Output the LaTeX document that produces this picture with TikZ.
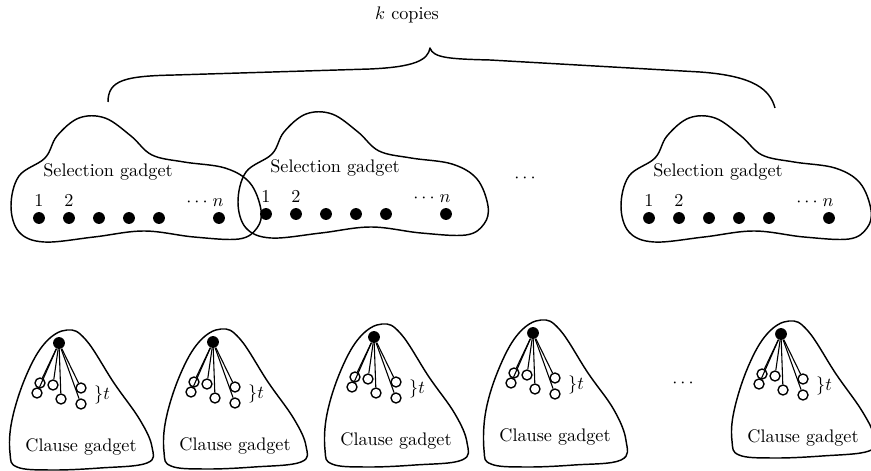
\documentclass[tikz,border=0pt]{standalone}
\tikzset{
 outline/.style={line width=0.8pt, line join=round},
 sdot/.style={circle, fill=black, inner sep=0pt, minimum size=6.5pt},
 cdot/.style={circle, fill=black, inner sep=0pt, minimum size=6.5pt},
 odot/.style={circle, draw, fill=white, line width=0.75pt, inner sep=0pt, minimum size=5.5pt},
 spoke/.style={line width=0.6pt},
 lbl/.style={inner sep=0pt},
}
\newcommand\selgadget[3]{%
 \begin{scope}[shift={(#2,#3)}]
  \draw[outline] plot[smooth cycle, tension=0.6] coordinates {
   (-28,-12) (-20,-42) (6,-60) (18,-82) (40,-100) (66,-100) (92,-82) (113,-63)
   (145,-56) (186,-50) (211,-35) (222,-8) (218,10) (200,21) (155,19) (105,13)
   (55,19) (5,24) (-20,14)};
  \node[lbl] (#1title) at (69,-46) {Selection gadget};
  \foreach \i/\xx in {1/0,2/30,3/60,4/90,5/120,6/180}
   \node[sdot] (#1d\i) at (\xx,0) {};
  \node[lbl, anchor=base] (#1one) at (0,-11) {$1$};
  \node[lbl, anchor=base] (#1two) at (30,-11) {$2$};
  \node[lbl, anchor=base] (#1dots) at (158,-11) {$\cdots$};
  \node[lbl, anchor=base] (#1n) at (179,-11) {$n$};
 \end{scope}}
\newcommand\clgadget[4]{%
 \begin{scope}[shift={(#2,#3)}]
  \draw[outline] plot[smooth cycle, tension=0.65] coordinates {
   (-14,0) (8,-13) (27,-3) (55,40) (81,77) (93,{104+#4/2}) (88,{120+#4})
   (41,{125+#4}) (-9,{127+#4}) (-42,{124+#4}) (-49,{110+#4}) (-47,77) (-33,33)};
  \node[cdot] (#1top) at (0,0) {};
  \foreach \i/\p in {1/{(-19,40)},2/{(-22,50)},3/{(-6,42)},4/{(2,56)},5/{(22,45)},6/{(22,61)}}{
   \node[odot] (#1c\i) at \p {};
   \draw[spoke] (#1top) -- (#1c\i);
  }
  \node[lbl] (#1t) at (43,52) {$\}t$};
  \node[lbl] (#1title) at (22,104) {Clause gadget};
 \end{scope}}
\begin{document}
\begin{tikzpicture}[x=0.55pt, y=-0.55pt]
\useasboundingbox (0,0) rectangle (871,471);
\node[lbl] (kc) at (407,15) {$k$ copies};
\coordinate (bl) at (108,102);
\coordinate (bt) at (430,48);
\coordinate (br) at (775,108);
\draw[outline] (bl) .. controls (108,80) and (125,76) .. (175,75) -- (370,69)
  .. controls (415,67) and (428,60) .. (bt)
  .. controls (433,58) and (450,59) .. (490,60) -- (700,72)
  .. controls (755,76) and (770,90) .. (br);
\selgadget{sa}{39}{218}
\selgadget{sb}{266}{214}
\selgadget{sc}{649}{218}
\node[lbl] (sdots) at (525,178) {$\cdots$};
\clgadget{ca}{59}{343}{0}
\clgadget{cb}{213}{342}{0}
\clgadget{cc}{374}{337}{3}
\clgadget{cd}{533}{333}{7}
\clgadget{ce}{781}{334}{-3}
\node[lbl] (cdots) at (683,383) {$\cdots$};
\end{tikzpicture}
\end{document}
